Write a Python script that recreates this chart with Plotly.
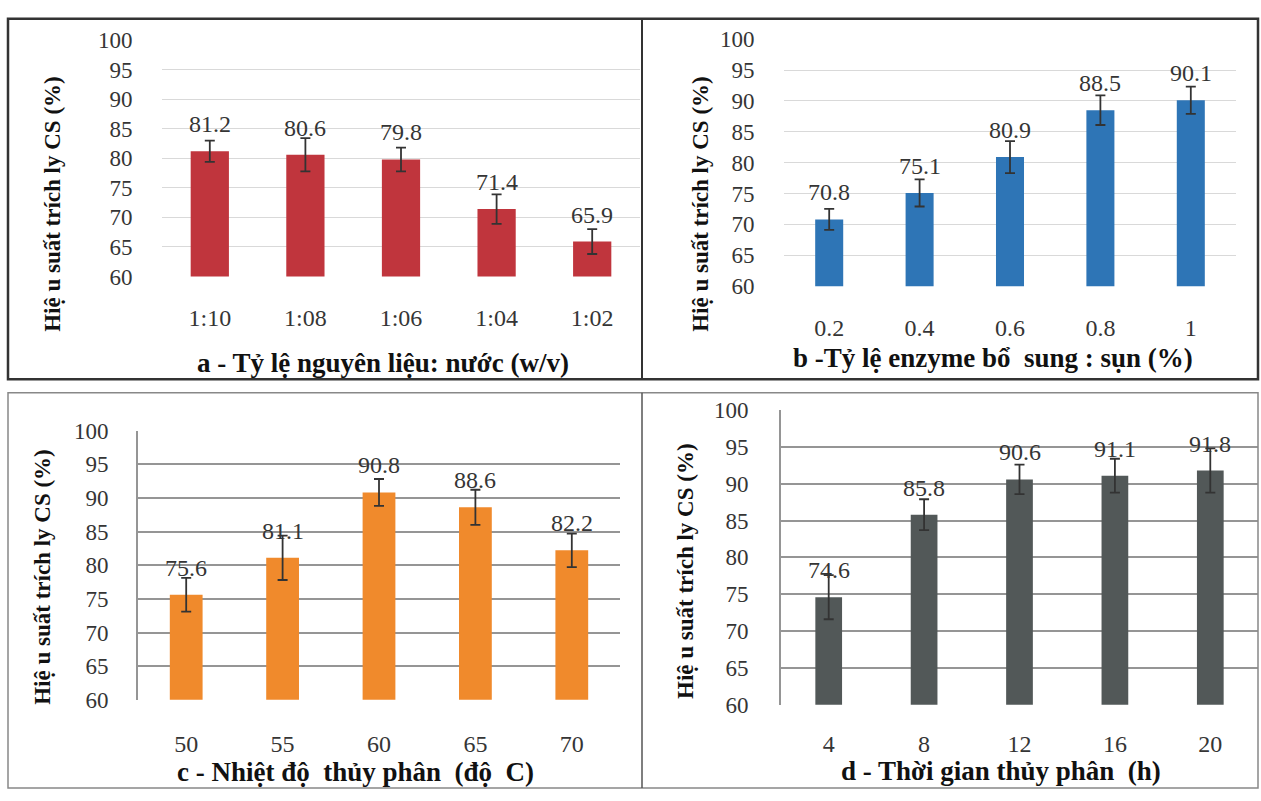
import plotly.graph_objects as go

W, H = 1261, 801

cat_a = ["1:10", "1:08", "1:06", "1:04", "1:02"]
val_a = [81.2, 80.6, 79.8, 71.4, 65.9]
err_a = [1.8, 2.8, 2.0, 2.5, 2.1]

cat_b = ["0.2", "0.4", "0.6", "0.8", "1"]
val_b = [70.8, 75.1, 80.9, 88.5, 90.1]
err_b = [1.7, 2.2, 2.6, 2.4, 2.2]

cat_c = ["50", "55", "60", "65", "70"]
val_c = [75.6, 81.1, 90.8, 88.6, 82.2]
err_c = [2.5, 3.3, 2.0, 2.6, 2.5]

cat_d = ["4", "8", "12", "16", "20"]
val_d = [74.6, 85.8, 90.6, 91.1, 91.8]
err_d = [3.0, 2.1, 2.0, 2.3, 3.0]

y_ticks = [60, 65, 70, 75, 80, 85, 90, 95, 100]
y_title = "Hiệ u suất trích ly CS (%)"
x_titles = [
    "a - Tỷ lệ nguyên liệu: nước (w/v)",
    "b -Tỷ lệ enzyme bổ  sung : sụn (%)",
    "c - Nhiệt độ  thủy phân  (độ  C)",
    "d - Thời gian thủy phân  (h)",
]
colors = ["#C0353D", "#2E75B6", "#F08A2C", "#525858"]

FONT = "Liberation Serif"
TXT = "#353535"

def px(x):
    return x / W

def py(y):
    return 1 - y / H

panels = [
    dict(cats=cat_a, vals=val_a, errs=err_a, x0=162, x1=640, yt=29, yb=273, gap=0.60, tlx=20, tly=24, dark=False,
         ytx=53, yty=198, xtx=383, xty=362),
    dict(cats=cat_b, vals=val_b, errs=err_b, x0=784, x1=1236, yt=28, yb=283, gap=0.69, tlx=20, tly=24, dark=False,
         ytx=701, yty=198, xtx=993, xty=357),
    dict(cats=cat_c, vals=val_c, errs=err_c, x0=138, x1=620, yt=432, yb=710, gap=0.66, tlx=22, tly=23, dark=True,
         ytx=43, yty=583, xtx=355, xty=785),
    dict(cats=cat_d, vals=val_d, errs=err_d, x0=781, x1=1258, yt=411, yb=715, gap=0.72, tlx=18, tly=26, dark=True,
         ytx=686, yty=577, xtx=1001, xty=783),
]

fig = go.Figure()
layout = dict(
    width=W, height=H, margin=dict(l=0, r=0, t=0, b=0),
    paper_bgcolor="white", plot_bgcolor="white", showlegend=False,
    font=dict(family=FONT, color=TXT),
)
annotations = []
shapes = []

for i, p in enumerate(panels):
    n = "" if i == 0 else str(i + 1)
    xa, ya = "x" + n, "y" + n
    fig.add_trace(go.Bar(
        x=p["cats"], y=p["vals"], xaxis=xa, yaxis=ya, width=1 - p["gap"],
        marker=dict(color=colors[i], line=dict(width=0)),
        error_y=dict(type="data", array=p["errs"], visible=True, color="#333333", thickness=1.8, width=5),
        hoverinfo="skip",
    ))
    grid_col = "#959595" if p["dark"] else "#D9D9D9"
    grid_w = 2 if p["dark"] else 1
    layout["xaxis" + n] = dict(
        domain=[px(p["x0"]), px(p["x1"])], anchor=ya, type="category",
        categoryorder="array", categoryarray=p["cats"], range=[-0.5, 4.5],
        showgrid=False, zeroline=False, showline=False,
        ticks="outside", ticklen=p["tlx"], tickcolor="rgba(0,0,0,0)",
        tickfont=dict(family=FONT, size=24, color=TXT), fixedrange=True,
    )
    layout["yaxis" + n] = dict(
        domain=[py(p["yb"]), py(p["yt"])], anchor=xa, range=[60, 100],
        tickvals=y_ticks, showgrid=True, gridcolor=grid_col, gridwidth=grid_w,
        zeroline=False, showline=p["dark"], linecolor=grid_col, linewidth=grid_w,
        ticks="outside", ticklen=p["tly"], tickcolor="rgba(0,0,0,0)",
        tickfont=dict(family=FONT, size=23, color=TXT), fixedrange=True,
    )
    for k, v in enumerate(p["vals"]):
        annotations.append(dict(
            x=k, y=v, xref=xa, yref=ya, text=f"{v:.1f}", showarrow=False,
            yanchor="middle", yshift=27, font=dict(family=FONT, size=24, color=TXT),
        ))
    annotations.append(dict(
        x=px(p["ytx"]), y=py(p["yty"]), xref="paper", yref="paper", text="<b>" + y_title + "</b>",
        textangle=-90, showarrow=False, xanchor="center", yanchor="middle",
        font=dict(family=FONT, size=23, color="#111111"),
    ))
    annotations.append(dict(
        x=px(p["xtx"]), y=py(p["xty"]), xref="paper", yref="paper", text="<b>" + x_titles[i] + "</b>",
        showarrow=False, xanchor="center", yanchor="middle",
        font=dict(family=FONT, size=27, color="#111111"),
    ))

def rect(x0, y0, x1, y1, color, w):
    shapes.append(dict(type="rect", xref="paper", yref="paper", x0=px(x0), x1=px(x1), y0=py(y1), y1=py(y0),
                       line=dict(color=color, width=w), fillcolor="rgba(0,0,0,0)", layer="above"))

def line(x0, y0, x1, y1, color, w):
    shapes.append(dict(type="line", xref="paper", yref="paper", x0=px(x0), x1=px(x1), y0=py(y0), y1=py(y1),
                       line=dict(color=color, width=w), layer="above"))

rect(8, 7, 1258, 379, "#333333", 2.5)
line(642, 7, 642, 379, "#333333", 2)
rect(8, 393, 1258, 801, "#888888", 1.5)
line(642, 393, 642, 801, "#555555", 1.5)

layout["annotations"] = annotations
layout["shapes"] = shapes
fig.update_layout(**layout)

fig.write_html("out.html")
